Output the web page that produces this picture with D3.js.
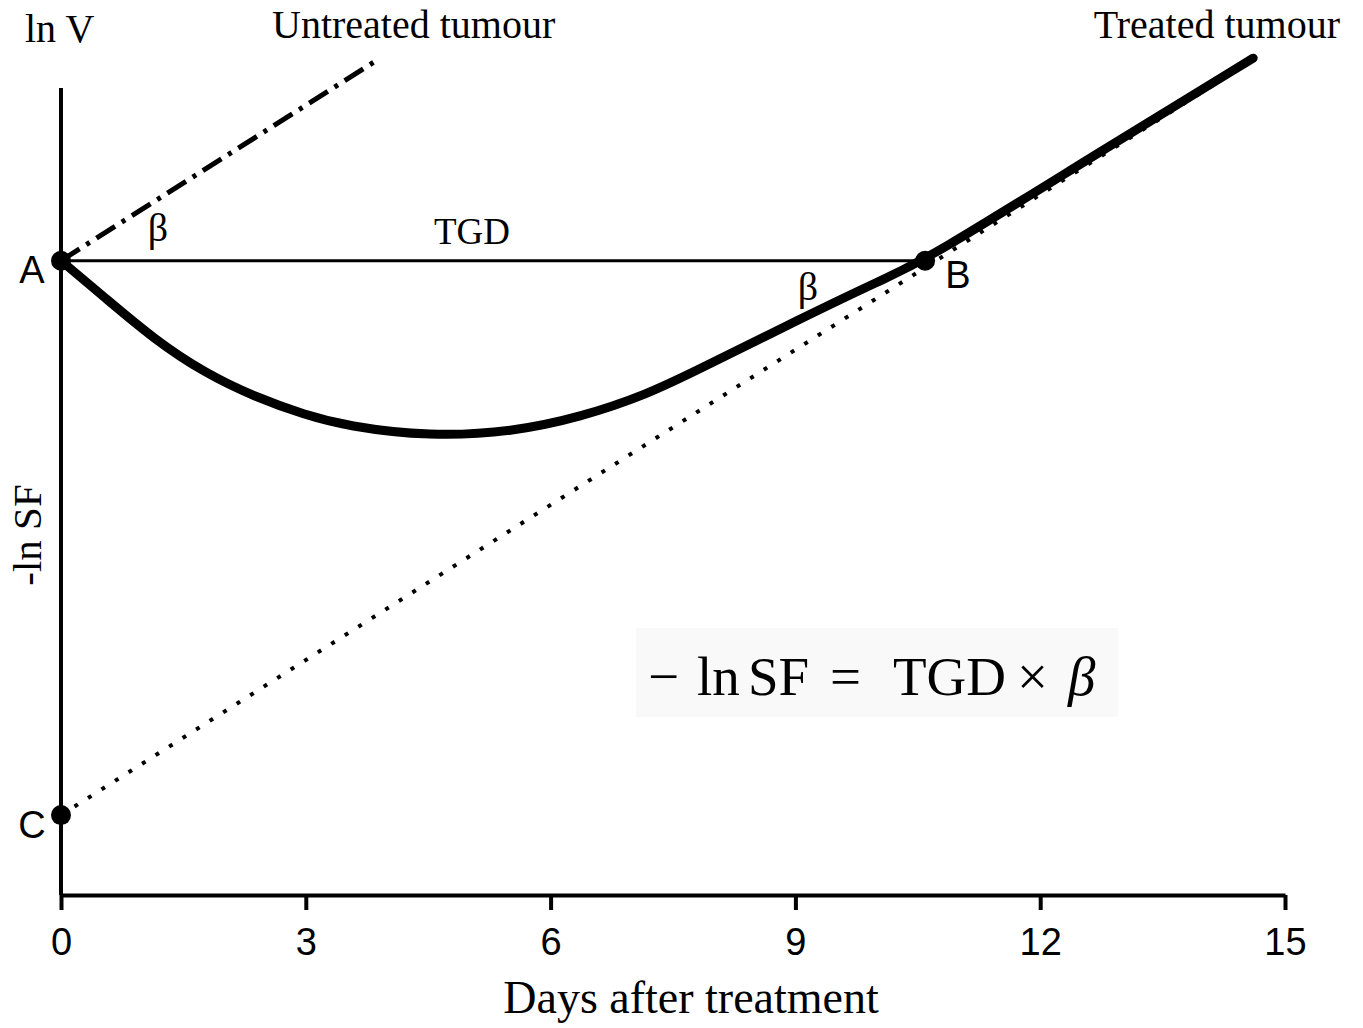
<!DOCTYPE html>
<html>
<head>
<meta charset="utf-8">
<script src="https://d3js.org/d3.v7.min.js"></script>
<style>
  body { margin: 0; background: #fff; }
</style>
</head>
<body>
  <div id="my_dataviz"></div>
  <script>
    // values (days, ln V in arbitrary units)
    var xTicks = [0, 3, 6, 9, 12, 15];
    var treatedDays = [0, 0.54, 1.15, 1.76, 2.38, 2.99, 3.50, 4.52, 5.54, 6.36, 7.18, 7.83, 9.06, 10.07, 10.59, 12.73, 14.61];
    var treatedLnV  = [7.86, 7.40, 6.88, 6.47, 6.17, 5.95, 5.81, 5.68, 5.74, 5.92, 6.20, 6.52, 7.14, 7.63, 7.86, 9.21, 10.37];
    var untreatedDays = [0, 3.88];
    var untreatedLnV  = [7.86, 10.35];
    var asymptoteDays = [0, 14.5];
    var asymptoteLnV  = [0.99, 10.28];
    var pointNames = ["A", "B", "C"];
    var pointDays  = [0, 10.59, 0];
    var pointLnV   = [7.86, 7.86, 0.99];

    var width = 1363, height = 1028;
    var svg = d3.select("#my_dataviz")
      .append("svg")
      .attr("width", width)
      .attr("height", height);

    var x = d3.scaleLinear().domain([0, 15]).range([61, 1285]);
    var y = d3.scaleLinear().domain([0, 10]).range([895, 88]);

    var serif = "'Liberation Serif', 'Times New Roman', serif";
    var sans = "'Liberation Sans', Arial, sans-serif";

    // formula box
    var fbox = svg.append("g");
    fbox.append("rect")
      .attr("x", 636).attr("y", 628)
      .attr("width", 482).attr("height", 89)
      .style("fill", "#f9f9f9");
    var ftext = fbox.append("text")
      .attr("y", 695)
      .style("font-family", serif)
      .style("font-size", "55px");
    var fparts = [["\u2212", 648], ["ln", 697], ["SF", 748], ["=", 830], ["TGD", 893], ["\u00d7", 1017], ["\u03b2", 1068]];
    fparts.forEach(function(p) {
      ftext.append("tspan").attr("x", p[1])
        .style("font-style", p[0] === "\u03b2" ? "italic" : "normal")
        .text(p[0]);
    });

    // axes
    var xAxis = svg.append("g")
      .attr("transform", "translate(0,895)")
      .call(d3.axisBottom(x).tickValues(xTicks).tickSize(15).tickSizeOuter(0).tickPadding(18));
    xAxis.select(".domain").style("stroke", "#000").style("stroke-width", 4);
    xAxis.selectAll(".tick line").style("stroke", "#000").style("stroke-width", 4);
    xAxis.selectAll(".tick text")
      .style("font-family", sans)
      .style("font-size", "38px")
      .style("fill", "#000");

    svg.append("line")
      .attr("x1", x(0)).attr("x2", x(0))
      .attr("y1", y(10)).attr("y2", y(0))
      .style("stroke", "#000").style("stroke-width", 4);

    // TGD horizontal
    svg.append("line")
      .attr("x1", x(pointDays[0])).attr("x2", x(pointDays[1]))
      .attr("y1", y(pointLnV[0])).attr("y2", y(pointLnV[1]))
      .style("stroke", "#000").style("stroke-width", 3);

    var line = d3.line().x(function(d) { return x(d[0]); }).y(function(d) { return y(d[1]); });

    // untreated (dash-dot)
    svg.append("path")
      .datum(d3.zip(untreatedDays, untreatedLnV))
      .attr("d", line)
      .style("fill", "none").style("stroke", "#000")
      .style("stroke-width", 5)
      .style("stroke-dasharray", "22,8,4,8");

    // asymptote (dotted)
    svg.append("path")
      .datum(d3.zip(asymptoteDays, asymptoteLnV))
      .attr("d", line)
      .style("fill", "none").style("stroke", "#000")
      .style("stroke-width", 4)
      .style("stroke-dasharray", "4,12");

    // treated tumour
    svg.append("path")
      .datum(d3.zip(treatedDays, treatedLnV))
      .attr("d", d3.line().x(function(d) { return x(d[0]); }).y(function(d) { return y(d[1]); }).curve(d3.curveBasis))
      .style("fill", "none").style("stroke", "#000")
      .style("stroke-width", 9)
      .style("stroke-linecap", "round");

    // points
    svg.selectAll("circle.pt")
      .data(d3.range(pointNames.length))
      .enter()
      .append("circle")
      .attr("class", "pt")
      .attr("cx", function(i) { return x(pointDays[i]); })
      .attr("cy", function(i) { return y(pointLnV[i]); })
      .attr("r", 10)
      .style("fill", "#000");

    var labelPos = { A: [32, 283], B: [958, 288], C: [32, 838] };
    svg.selectAll("text.pt")
      .data(pointNames)
      .enter()
      .append("text")
      .attr("class", "pt")
      .attr("x", function(d) { return labelPos[d][0]; })
      .attr("y", function(d) { return labelPos[d][1]; })
      .attr("text-anchor", "middle")
      .style("font-family", sans)
      .style("font-size", "38px")
      .text(function(d) { return d; });

    function label(txt, px, py, size, anchor) {
      return svg.append("text")
        .attr("x", px).attr("y", py)
        .attr("text-anchor", anchor || "start")
        .style("font-family", serif)
        .style("font-size", size + "px")
        .text(txt);
    }

    label("ln V", 25, 42, 40);
    label("Untreated tumour", 272, 38, 40);
    label("Treated tumour", 1340, 38, 40, "end");
    label("TGD", 472, 244, 37, "middle");
    label("\u03b2", 158, 241, 40, "middle");
    label("\u03b2", 808, 300, 40, "middle");
    label("Days after treatment", 691, 1013, 46, "middle");

    svg.append("text")
      .attr("transform", "translate(41,535) rotate(-90)")
      .attr("text-anchor", "middle")
      .style("font-family", serif)
      .style("font-size", "41px")
      .text("-ln SF");
  </script>
</body>
</html>
